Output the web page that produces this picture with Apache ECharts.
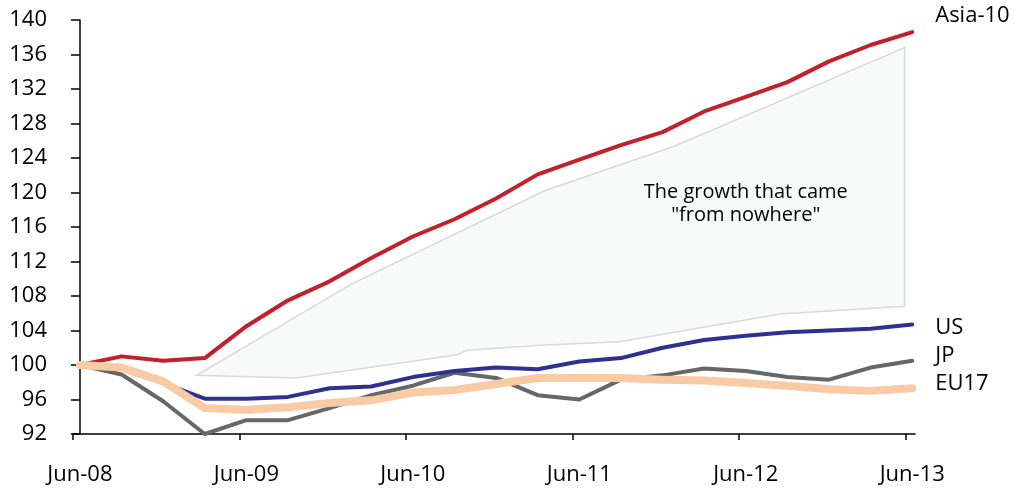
<!DOCTYPE html>
<html>
<head>
<meta charset="utf-8">
<script src="https://cdn.jsdelivr.net/npm/echarts@6/dist/echarts.min.js"></script>
<style>
html,body{margin:0;padding:0;background:#fff;}
#c{width:1017px;height:488px;}
</style>
</head>
<body>
<div id="c"></div>
<script>
// Quarterly categories (x value = months since Jun-08)
const quarters = ['Jun-08','Sep-08','Dec-08','Mar-09','Jun-09','Sep-09','Dec-09','Mar-10','Jun-10','Sep-10','Dec-10','Mar-11','Jun-11','Sep-11','Dec-11','Mar-12','Jun-12','Sep-12','Dec-12','Mar-13','Jun-13'];
const asia10 = [100.0,101.0,100.5,100.8,104.5,107.5,109.7,112.4,114.9,116.9,119.3,122.1,123.8,125.5,127.0,129.4,131.1,132.8,135.2,137.1,138.6];
const us     = [100.0,99.5,97.9,96.1,96.1,96.3,97.3,97.5,98.6,99.3,99.7,99.5,100.4,100.8,102.0,102.9,103.4,103.8,104.0,104.2,104.7];
const jp     = [100.0,98.9,95.8,92.0,93.6,93.6,95.0,96.5,97.6,99.1,98.5,96.5,96.0,98.3,98.8,99.6,99.3,98.6,98.3,99.7,100.5];
const eu17   = [100.0,99.7,98.1,95.0,94.8,95.1,95.6,95.9,96.8,97.1,97.8,98.5,98.5,98.5,98.3,98.2,97.9,97.6,97.2,97.0,97.3];
// Shaded "growth from nowhere" region (months since Jun-08, index value)
const polyUpperX = [8.4, 19.6, 33.5, 42.9, 59.45];
const polyUpperY = [98.8, 109.4, 120.2, 125.4, 136.8];
const polyLowerX = [8.4, 15.6, 27.2, 27.9, 33.2, 38.9, 50.5, 59.45];
const polyLowerY = [98.8, 98.5, 101.2, 101.7, 102.3, 102.7, 105.9, 106.8];
const annotationText = 'The growth that came\n"from nowhere"';
const annotationAt = [48.0, 118.7];
// Axis ticks
const yTicks = [92,96,100,104,108,112,116,120,124,128,132,136,140];
const xLabelMonths = [0,12,24,36,48,60];

const FONT = 'Open Sans';
const months = quarters.map((q,i)=>i*3);
const toData = arr => arr.map((v,i)=>[months[i], v]);

const chart = echarts.init(document.getElementById('c'), null, {renderer:'canvas'});

function lineSeries(name, data, color, width, z, dy){
  return {
    name, type:'line', data: toData(data), z,
    symbol:'none', showSymbol:false,
    lineStyle:{color, width, cap:'round', join:'round'},
    emphasis:{disabled:true},
    endLabel:{show:true, formatter: name, distance:23, offset:[0,dy],
      color:'#000', fontFamily:FONT, fontSize:22}
  };
}

chart.setOption({
  animation:false,
  backgroundColor:'#fff',
  grid:{left:73, right:102, top:20, bottom:54},
  xAxis:{
    type:'value', min:-0.5, max:60.2,
    splitLine:{show:false},
    axisLine:{show:true, lineStyle:{color:'#000', width:1.5}},
    axisTick:{show:true, length:6, lineStyle:{color:'#000', width:1.5},
      customValues: xLabelMonths.map(m=>m-0.5)},
    axisLabel:{customValues: xLabelMonths, margin:30,
      formatter: v => quarters[Math.round(v/3)] || '',
      color:'#000', fontFamily:FONT, fontSize:22}
  },
  yAxis:{
    type:'value', min:92, max:140, interval:4,
    splitLine:{show:false},
    axisLine:{show:true, lineStyle:{color:'#000', width:1.5}},
    axisTick:{show:true, length:9, lineStyle:{color:'#000', width:1.5}},
    axisLabel:{margin:26, color:'#000', fontFamily:FONT, fontSize:22,
      customValues: yTicks}
  },
  series:[
    {
      type:'custom', z:1, silent:true,
      data:[[polyUpperX[0], polyUpperY[0]]],
      renderItem:(params, api)=>{
        const pts = [];
        polyUpperX.forEach((x,i)=>pts.push(api.coord([x, polyUpperY[i]])));
        for(let i=polyLowerX.length-1;i>=0;i--) pts.push(api.coord([polyLowerX[i], polyLowerY[i]]));
        const c = api.coord(annotationAt);
        return {type:'group', children:[
          {type:'polygon', shape:{points:pts}, style:{fill:'#f8f9f9', stroke:'#d9d9d9', lineWidth:1.5}},
          {type:'text', x:c[0], y:c[1], style:{text:annotationText, fill:'#000', font:'20px "'+FONT+'"',
            align:'center', verticalAlign:'middle', lineHeight:23}}
        ]};
      }
    },
    lineSeries('JP', jp, '#676767', 4, 2, -5),
    lineSeries('US', us, '#2e3192', 4, 3, 3),
    lineSeries('Asia-10', asia10, '#c4202b', 4, 4, -16),
    lineSeries('EU17', eu17, '#f8cba4', 8, 5, -5)
  ]
});
</script>
</body>
</html>
